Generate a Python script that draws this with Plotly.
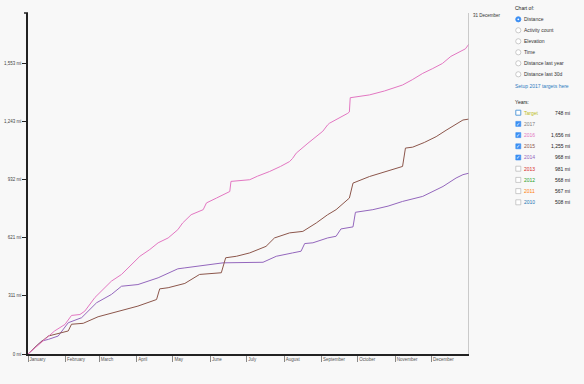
import plotly.graph_objects as go
import pandas as pd

# ---------------- data (day-of-year, cumulative miles) ----------------
days_2016 = [0, 14, 22, 30.6, 36, 43, 47, 55.4, 69, 77.4, 92.6, 100.8, 107.7, 116, 124, 128, 135, 145,
             147.7, 156, 163, 167, 168, 183.5, 190, 200, 209, 216.5, 219, 222, 231.7, 238.6, 244, 248,
             249.6, 264.7, 266, 266.7, 282.6, 295, 310, 318, 326.7, 335, 343, 350, 357, 362, 365]
miles_2016 = [0, 78, 123, 158, 206, 211, 229, 302, 389, 425, 522, 558, 594, 620, 664, 700, 744, 771,
              807, 833, 855, 868, 922, 931, 950, 975, 1002, 1028, 1045, 1073, 1126, 1161, 1190, 1224,
              1233, 1286, 1293, 1369, 1384, 1405, 1437, 1465, 1499, 1525, 1552, 1590, 1614, 1630, 1656]

days_2015 = [0, 8.5, 16.8, 33.3, 36, 45.7, 58, 74.6, 91, 106.4, 109, 116, 129.8, 142, 160, 163.6, 172.5,
             183.5, 197, 204, 216.5, 227.5, 238.6, 248, 255, 266, 269, 282.6, 296, 310, 312.4, 318.4,
             328, 337.8, 346, 354, 360, 365]
miles_2015 = [0, 52, 96, 123, 159, 164, 199, 229, 256, 291, 348, 354, 377, 425, 434, 514, 522,
              540, 575, 620, 647, 655, 700, 744, 771, 833, 913, 948, 975, 1002, 1100, 1105,
              1130, 1161, 1195, 1224, 1250, 1255]

days_2014 = [0, 11.3, 16.8, 25, 33.3, 44.4, 56.8, 69, 77.4, 91, 107.7, 124, 129.8, 145, 161.4, 194.5,
             205.5, 219, 226, 229, 235.8, 248, 255, 259, 269, 271, 285.4, 298, 310, 326.7, 343.5,
             354.3, 360, 365]
miles_2014 = [0, 69, 78, 96, 167, 194, 274, 318, 362, 371, 407, 455, 460, 473, 487, 490,
              522, 540, 549, 590, 594, 620, 629, 668, 679, 757, 771, 790, 815, 842, 895,
              940, 958, 966]

ytick_vals = [0, 310.69, 621.37, 932.06, 1242.74, 1553.43]
ytick_text = ["0 mi", "311 mi", "621 mi", "932 mi", "1,243 mi", "1,553 mi"]
month_ticks = pd.date_range("2017-01-01", "2017-12-01", freq="MS")
month_names = ["January", "February", "March", "April", "May", "June", "July",
               "August", "September", "October", "November", "December"]

chart_of = ["Distance", "Activity count", "Elevation", "Time", "Distance last year", "Distance last 30d"]
year_labels = ["Target", "2017", "2016", "2015", "2014", "2013", "2012", "2011", "2010"]
year_totals = ["748 mi", "", "1,656 mi", "1,255 mi", "968 mi", "981 mi", "568 mi", "567 mi", "508 mi"]
year_checked = [False, True, True, True, True, False, False, False, False]
year_colors = ["#bcbd22", "#7f7f7f", "#e377c2", "#8c564b", "#9467bd", "#d62728", "#2ca02c", "#ff7f0e", "#1f77b4"]

FONT = "Liberation Sans, Arial, sans-serif"
BG = "#f8f8f8"
start = pd.Timestamp("2017-01-01")


def to_dates(days):
    return [start + pd.Timedelta(days=d) for d in days]


fig = go.Figure()
for d, m, c, name in [(days_2014, miles_2014, "#9467bd", "2014"),
                      (days_2015, miles_2015, "#8c564b", "2015"),
                      (days_2016, miles_2016, "#e377c2", "2016")]:
    fig.add_trace(go.Scatter(x=to_dates(d), y=m, mode="lines", name=name,
                             line=dict(color=c, width=1), showlegend=False))

W, H = 584, 384
L, R, T, B = 28, 115, 13, 30
PW, PH = W - L - R, H - T - B


def px(x):
    return (x - L) / PW


def py(y):
    return (H - B - y) / PH


fig.update_layout(
    width=W, height=H,
    margin=dict(l=L, r=R, t=T, b=B, autoexpand=False),
    paper_bgcolor=BG, plot_bgcolor=BG,
    font=dict(family=FONT, size=5, color="#333"),
    xaxis=dict(type="date", range=["2017-01-01", "2018-01-01"],
               tickvals=month_ticks, ticktext=month_names,
               ticks="outside", ticklen=6, tickcolor="#888", tickwidth=1,
               ticklabelposition="outside right",
               tickfont=dict(size=4.5, color="#555"),
               showgrid=False, zeroline=False, automargin=False,
               showline=True, linecolor="#222", linewidth=2),
    yaxis=dict(range=[0, 1821.6], tickvals=ytick_vals, ticktext=ytick_text,
               ticks="outside", ticklen=4, tickcolor="#222", tickwidth=1,
               tickfont=dict(size=4.5, color="#444"), automargin=False,
               showgrid=False, zeroline=False,
               showline=True, linecolor="#222", linewidth=1.5),
)

shapes = []
annots = []
# top outer tick of y axis
shapes.append(dict(type="line", xref="paper", yref="paper", x0=px(24), x1=px(28), y0=1, y1=1,
                   line=dict(color="#222", width=1.5)))
# 31 December marker line
shapes.append(dict(type="line", xref="x", yref="paper", x0="2018-01-01", x1="2018-01-01", y0=0, y1=1,
                   line=dict(color="#bbbbbb", width=1.5)))
annots.append(dict(text="31 December", xref="paper", yref="paper", x=px(471), y=py(15.5),
                   xanchor="left", yanchor="middle", showarrow=False, font=dict(size=4.5, color="#333")))

# Chart of panel
annots.append(dict(text="Chart of:", xref="paper", yref="paper", x=px(512.5), y=py(7.5),
                   xanchor="left", yanchor="middle", showarrow=False, font=dict(size=5, color="#222")))
for i, lab in enumerate(chart_of):
    cy = 19.3 + i * 11
    r = 2.6
    if i == 0:
        shapes.append(dict(type="circle", xref="paper", yref="paper",
                           x0=px(518.3 - r), x1=px(518.3 + r), y0=py(cy + r), y1=py(cy - r),
                           fillcolor="#3b8ef3", line=dict(color="#3b8ef3", width=0.8)))
        shapes.append(dict(type="circle", xref="paper", yref="paper",
                           x0=px(518.3 - 0.9), x1=px(518.3 + 0.9), y0=py(cy + 0.9), y1=py(cy - 0.9),
                           fillcolor="white", line=dict(color="white", width=0)))
    else:
        shapes.append(dict(type="circle", xref="paper", yref="paper",
                           x0=px(518.3 - r), x1=px(518.3 + r), y0=py(cy + r), y1=py(cy - r),
                           fillcolor="white", line=dict(color="#aaa", width=0.6)))
    annots.append(dict(text=lab, xref="paper", yref="paper", x=px(521.5), y=py(cy),
                       xanchor="left", yanchor="middle", showarrow=False, font=dict(size=5, color="#333")))
annots.append(dict(text="Setup 2017 targets here", xref="paper", yref="paper", x=px(512.5), y=py(86),
                   xanchor="left", yanchor="middle", showarrow=False, font=dict(size=5, color="#2d7bbf")))

# Years panel
annots.append(dict(text="Years:", xref="paper", yref="paper", x=px(512.5), y=py(101.7),
                   xanchor="left", yanchor="middle", showarrow=False, font=dict(size=5, color="#222")))
for i, (lab, tot, chk, col) in enumerate(zip(year_labels, year_totals, year_checked, year_colors)):
    cy = 112.7 + i * 11.2
    s = 2.5
    if chk:
        shapes.append(dict(type="rect", xref="paper", yref="paper",
                           x0=px(518.3 - s), x1=px(518.3 + s), y0=py(cy + s), y1=py(cy - s),
                           fillcolor="#3b8ef3", line=dict(color="#3b8ef3", width=0.6)))
        annots.append(dict(text="✓", xref="paper", yref="paper", x=px(518.3), y=py(cy),
                           xanchor="center", yanchor="middle", showarrow=False,
                           font=dict(size=5, color="white")))
    else:
        lc = "#5b9dd9" if i == 0 else "#aaa"
        lw = 1 if i == 0 else 0.6
        shapes.append(dict(type="rect", xref="paper", yref="paper",
                           x0=px(518.3 - s), x1=px(518.3 + s), y0=py(cy + s), y1=py(cy - s),
                           fillcolor="white", line=dict(color=lc, width=lw)))
    annots.append(dict(text=lab, xref="paper", yref="paper", x=px(521.5), y=py(cy),
                       xanchor="left", yanchor="middle", showarrow=False, font=dict(size=5, color=col)))
    if tot:
        annots.append(dict(text=tot, xref="paper", yref="paper", x=px(572), y=py(cy),
                           xanchor="right", yanchor="middle", showarrow=False, font=dict(size=5, color="#222")))

fig.update_layout(shapes=shapes, annotations=annots)
fig.write_html("out.html", config={"displayModeBar": False},
               post_script="document.body.style.margin='0';document.body.style.background='%s';" % BG)
